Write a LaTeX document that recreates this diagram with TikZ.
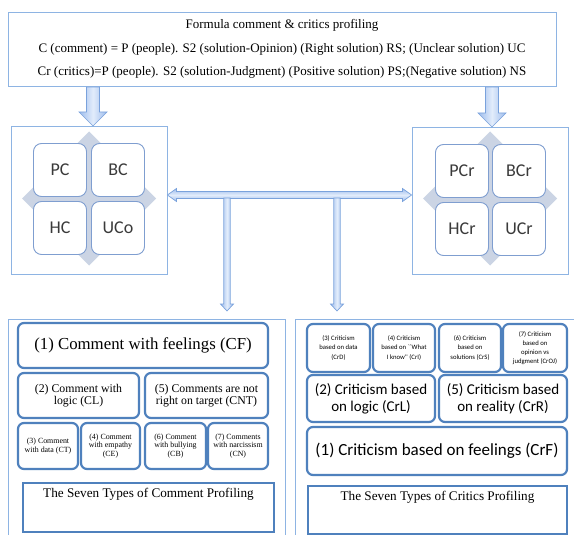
\documentclass[tikz,border=0pt]{standalone}
\usepackage{fontspec}
\setmainfont{Liberation Serif}
\newfontfamily\calib{Carlito}
\usetikzlibrary{calc}

\definecolor{frame}{HTML}{8EB4E3}
\definecolor{accent}{HTML}{4F81BD}
\definecolor{tileedge}{HTML}{7F9ED0}
\definecolor{crossfill}{HTML}{CBD4E4}
\definecolor{arrowedge}{HTML}{7AA2DC}
\definecolor{arrowlight}{HTML}{E2ECFB}
\definecolor{arrowdark}{HTML}{9DBCEC}
\definecolor{tiletext}{HTML}{3A3A3A}

\newcommand\fs[2]{\fontsize{#1}{#2}\selectfont}

% vertical block arrow: from, tip, shaft half width, head half width, head length
\newcommand\vblock[5]{%
  \draw[blockarrow] let \p1=(#1), \p2=(#2) in
    (\x1-#3,\y1) -- (\x1+#3,\y1) -- (\x1+#3,\y2+#5) -- (\x1+#4,\y2+#5)
    -- (\x2,\y2) -- (\x1-#4,\y2+#5) -- (\x1-#3,\y2+#5) -- cycle;}

\begin{document}
\begin{tikzpicture}[x=1pt,y=-1pt,
  outer/.style={draw=frame, line width=0.9pt, fill=white, inner sep=0pt},
  card/.style={draw=accent, line width=2.2pt, rounded corners=6pt, fill=white,
    align=center, inner sep=0pt},
  plainbox/.style={draw=accent, line width=2.2pt, fill=white, inner sep=0pt},
  tile/.style={draw=tileedge, line width=0.9pt, rounded corners=8pt, fill=white,
    text=tiletext, font=\calib\fs{18}{20}, minimum width=53pt, minimum height=53pt},
  crossbg/.style={fill=crossfill},
  blockarrow/.style={draw=arrowedge, line width=0.7pt, shading=axis,
    left color=arrowdark, right color=arrowdark, middle color=arrowlight},
  barrow/.style={draw=arrowedge, line width=0.7pt, shading=axis, shading angle=0,
    top color=arrowdark, bottom color=arrowdark, middle color=arrowlight},
]
\useasboundingbox (0,0) rectangle (574,535);
\clip (0,0) rectangle (574,535);

% formula box
\node[outer, minimum width=548pt, minimum height=74pt, align=center, font=\fs{13}{23.5}]
  (formula) at (282,49)
  {Formula comment \& critics profiling\\
   C (comment) = P (people). S2 (solution-Opinion) (Right solution) RS; (Unclear solution) UC\\
   Cr (critics)=P (people). S2 (solution-Judgment) (Positive solution) PS;(Negative solution) NS};

% comment matrix
\node[outer, minimum width=156pt, minimum height=148pt] (cmat) at (89,200) {};
\fill[crossbg] (89,131.5) -- (156,198.5) -- (89,265.5) -- (22,198.5) -- cycle;
\node[tile] (pc)  at (60,170)  {PC};
\node[tile] (bc)  at (118,170) {BC};
\node[tile] (hc)  at (60,228)  {HC};
\node[tile] (uco) at (118,228) {UCo};

% critics matrix
\node[outer, minimum width=156pt, minimum height=147pt] (rmat) at (490,200.5) {};
\fill[crossbg] (490,131.5) -- (557,198.5) -- (490,265.5) -- (423,198.5) -- cycle;
\node[tile] (pcr) at (462,171) {PCr};
\node[tile] (bcr) at (519,171) {BCr};
\node[tile] (hcr) at (462,229) {HCr};
\node[tile] (ucr) at (519,229) {UCr};

% arrows from the formula down to both matrices
\coordinate (fa) at (93,87);   \coordinate (fat) at (93,126);
\coordinate (fb) at (492,87);  \coordinate (fbt) at (492,127);
\vblock{fa}{fat}{6.5pt}{14pt}{14pt}
\vblock{fb}{fbt}{6.5pt}{14pt}{14pt}

% two-headed link between the matrices
\coordinate (hl) at (cmat.east |- 0,195);
\coordinate (hr) at (rmat.west |- 0,195);
\draw[barrow] let \p1=(hl), \p2=(hr) in
  (\x1,\y1) -- (\x1+9pt,\y1+6.5pt) -- (\x1+9pt,\y1+3.5pt) -- (\x2-9pt,\y1+3.5pt)
  -- (\x2-9pt,\y1+6.5pt) -- (\x2,\y2) -- (\x2-9pt,\y1-6.5pt) -- (\x2-9pt,\y1-3.5pt)
  -- (\x1+9pt,\y1-3.5pt) -- (\x1+9pt,\y1-6.5pt) -- cycle;

% profiling panels
\node[outer, minimum width=277pt, minimum height=226pt] (lpanel) at (146.5,432) {};
\node[outer, minimum width=290pt, minimum height=226pt] (rpanel) at (440,432) {};

% drops from the link down to the panels
\coordinate (da) at (227,198); \coordinate (dat) at (227,311);
\coordinate (db) at (337,198); \coordinate (dbt) at (337,311);
\vblock{da}{dat}{3.2pt}{6.5pt}{7pt}
\vblock{db}{dbt}{3.2pt}{6.5pt}{7pt}

% comment profiling cards
\node[card, minimum width=250pt, minimum height=45pt, font=\fs{16.8}{19}]
  (cf) at (143,345.5) {(1) Comment with feelings (CF)};
\node[card, minimum width=121pt, minimum height=45pt, font=\fs{11.8}{12.3}]
  (cl) at (78.5,395.5) {(2) Comment with\\logic (CL)};
\node[card, minimum width=123pt, minimum height=45pt, font=\fs{11.8}{12.3}]
  (cnt) at (206.5,395.5) {(5) Comments are not\\right on target (CNT)};
\node[card, minimum width=60pt, minimum height=46pt, font=\fs{7.9}{8.5}]
  (ct) at (48,446) {(3) Comment\\with data (CT)};
\node[card, minimum width=59pt, minimum height=46pt, font=\fs{7.9}{8.5}]
  (ce) at (110.5,446) {(4) Comment\\with empathy\\(CE)};
\node[card, minimum width=61pt, minimum height=46pt, font=\fs{7.9}{8.5}]
  (cb) at (175.5,446) {(6) Comment\\with bullying\\(CB)};
\node[card, minimum width=60pt, minimum height=46pt, font=\fs{7.9}{8.5}]
  (cn) at (238,446) {(7) Comments\\with narcissism\\(CN)};
\node[plainbox, minimum width=251pt, minimum height=49pt] (sevenc) at (148.5,507.5) {};
\node[font=\fs{13.2}{15}, anchor=north, inner sep=0pt] (sevenctext)
  at ($(sevenc.north)+(0,6)$) {The Seven Types of Comment Profiling};

% critics profiling cards
\node[card, minimum width=63pt, minimum height=48pt, font=\calib\fs{6.7}{9.5}]
  (crd) at (338.5,348) {(3) Criticism\\based on data\\(CrD)};
\node[card, minimum width=62pt, minimum height=48pt, font=\calib\fs{6.7}{9.5}]
  (cri) at (404,348) {(4) Criticism\\based on ``What\\I know'' (CrI)};
\node[card, minimum width=62pt, minimum height=48pt, font=\calib\fs{6.7}{9.5}]
  (crs) at (470,348) {(6) Criticism\\based on\\solutions (CrS)};
\node[card, minimum width=64pt, minimum height=48pt, font=\calib\fs{6.7}{8.8}]
  (croj) at (535,348) {(7) Criticism\\based on\\opinion vs\\judgment (CrOJ)};
\node[card, minimum width=128pt, minimum height=47pt, font=\calib\fs{15}{17}]
  (crl) at (371,398.5) {(2) Criticism based\\on logic (CrL)};
\node[card, minimum width=128pt, minimum height=47pt, font=\calib\fs{15}{17}]
  (crr) at (503,398.5) {(5) Criticism based\\on reality (CrR)};
\node[card, minimum width=260pt, minimum height=48pt, font=\calib\fs{17}{19}]
  (crf) at (437,451) {(1) Criticism based on feelings (CrF)};
\node[plainbox, minimum width=259pt, minimum height=48pt] (sevenr) at (437.5,510) {};
\node[font=\fs{13.2}{15}, anchor=north, inner sep=0pt] (sevenrtext)
  at ($(sevenr.north)+(0,6)$) {The Seven Types of Critics Profiling};
\end{tikzpicture}
\end{document}
